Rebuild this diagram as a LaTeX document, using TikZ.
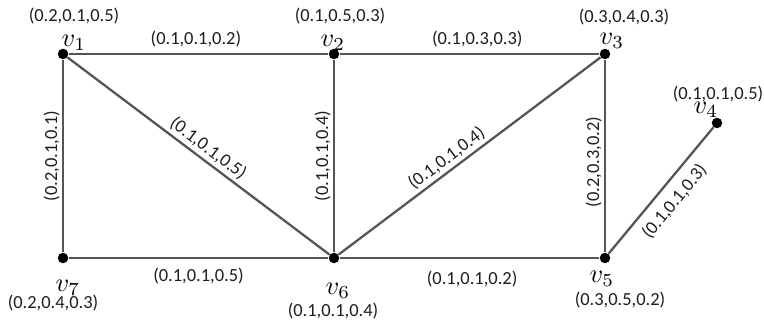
\documentclass[tikz,border=0pt]{standalone}
\usepackage{fontspec}
\setmainfont{Carlito}
\usetikzlibrary{positioning}
\definecolor{EdgeGray}{HTML}{555555}
\definecolor{TextDark}{HTML}{1E1E1E}

\tikzset{
  vtx/.style={circle, fill=black, inner sep=0pt, minimum size=0.21cm},
  vname/.style={scale=1.5, inner sep=0pt},
  triple/.style={font=\fontsize{10.5}{12}\selectfont, TextDark, inner sep=0pt},
  edge/.style={EdgeGray, line width=1.3pt},
  wt/.style={font=\fontsize{10.5}{12}\selectfont, TextDark, sloped}
}

\begin{document}
\begin{tikzpicture}
    \useasboundingbox (0,0) rectangle (15.28,6.52);

    % Vertices
    \node[vtx] (v1) at (1.26,5.44) {};
    \node[vtx] (v2) at (6.68,5.44) {};
    \node[vtx] (v3) at (12.10,5.44) {};
    \node[vtx] (v4) at (14.34,4.06) {};
    \node[vtx] (v5) at (12.10,1.36) {};
    \node[vtx] (v6) at (6.68,1.36) {};
    \node[vtx] (v7) at (1.26,1.36) {};

    % Vertex names
    \node[vname] (n1) at (1.48,5.66) {$v_1$};
    \node[vname] (n2) at (6.66,5.66) {$v_2$};
    \node[vname] (n3) at (12.24,5.70) {$v_3$};
    \node[vname] (n4) at (14.12,4.32) {$v_4$};
    \node[vname] (n5) at (12.04,0.94) {$v_5$};
    \node[vname] (n6) at (6.76,0.70) {$v_6$};
    \node[vname] (n7) at (1.36,0.76) {$v_7$};

    % Vertex triples
    \node[triple] (t1) at (1.48,6.20) {(0.2,0.1,0.5)};
    \node[triple] (t2) at (6.80,6.20) {(0.1,0.5,0.3)};
    \node[triple] (t3) at (12.48,6.18) {(0.3,0.4,0.3)};
    \node[triple] (t4) at (14.36,4.64) {(0.1,0.1,0.5)};
    \node[triple] (t5) at (12.40,0.52) {(0.3,0.5,0.2)};
    \node[triple] (t6) at (6.66,0.30) {(0.1,0.1,0.4)};
    \node[triple] (t7) at (1.06,0.46) {(0.2,0.4,0.3)};

    % Edges with their triples
    \draw[edge] (v1) -- node[wt, above, inner sep=3.5pt, pos=0.49] {(0.1,0.1,0.2)} (v2);
    \draw[edge] (v2) -- node[wt, above, inner sep=3.5pt, pos=0.53] {(0.1,0.3,0.3)} (v3);
    \draw[edge] (v7) -- node[wt, below, inner sep=5.3pt, pos=0.50] {(0.1,0.1,0.5)} (v6);
    \draw[edge] (v6) -- node[wt, below, inner sep=7pt, pos=0.51] {(0.1,0.1,0.2)} (v5);
    \draw[edge] (v7) -- node[wt, above, inner sep=1.3pt] {(0.2,0.1,0.1)} (v1);
    \draw[edge] (v6) -- node[wt, above, inner sep=1.3pt] {(0.1,0.1,0.4)} (v2);
    \draw[edge] (v5) -- node[wt, above, inner sep=1.3pt, pos=0.47] {(0.2,0.3,0.2)} (v3);
    \draw[edge] (v1) -- node[wt, above, inner sep=1.6pt, pos=0.51] {(0.1,0.1,0.5)} (v6);
    \draw[edge] (v6) -- node[wt, above, inner sep=1.6pt, pos=0.44] {(0.1,0.1,0.4)} (v3);
    \draw[edge] (v5) -- node[wt, below, inner sep=4.7pt] {(0.1,0.1,0.3)} (v4);

\end{tikzpicture}
\end{document}
